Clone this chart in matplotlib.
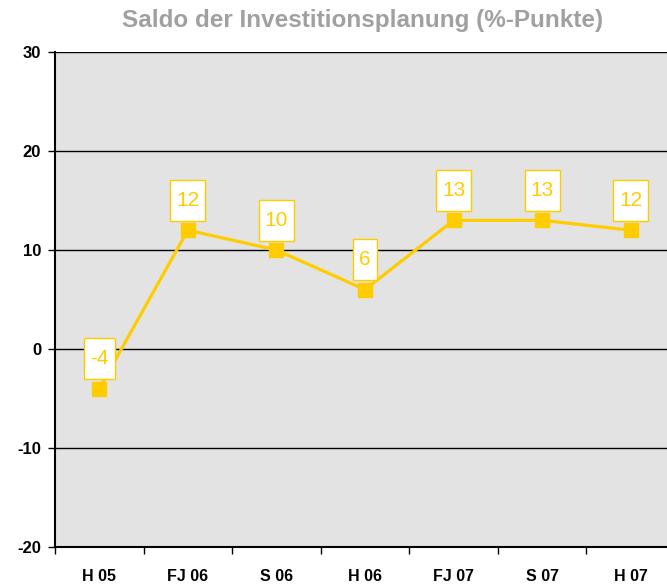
import matplotlib
matplotlib.use("Agg")
import matplotlib.pyplot as plt
from matplotlib.patches import Rectangle
import numpy as np

categories = ["H 05", "FJ 06", "S 06", "H 06", "FJ 07", "S 07", "H 07"]
values = [-4, 12, 10, 6, 13, 13, 12]
yticks = [-20, -10, 0, 10, 20, 30]

FAM = ["Liberation Sans", "DejaVu Sans"]
W, H = 667, 587
fig = plt.figure(figsize=(W/100, H/100), dpi=100)
left, right, top, bottom = 55, 675, 52, 547
ax = fig.add_axes([left/W, 1-bottom/H, (right-left)/W, (bottom-top)/H])
ax.set_facecolor("#E3E3E3")

x = np.arange(len(categories))
ax.set_xlim(-0.5, len(categories)-0.5)
ax.set_ylim(-20, 30)

for yv in yticks[1:]:
    ax.axhline(yv, color="black", lw=1, zorder=1)

yellow = "#FFCC00"
ax.plot(x, values, color=yellow, lw=2.3, marker="s", ms=10, zorder=3, clip_on=False)

texts = []
for xi, v in zip(x, values):
    t = ax.annotate(str(v), (xi, v), xytext=(0, 30), textcoords="offset pixels",
                    ha="center", va="center", fontsize=15, color=yellow, zorder=5, family=FAM)
    texts.append(t)

ax.set_yticks(yticks)
ax.set_yticklabels([str(t) for t in yticks], fontsize=12, fontweight="bold", family=FAM)
ax.set_xticks(np.arange(len(categories)+1)-0.5, minor=False)
ax.set_xticklabels([""]*(len(categories)+1))
ax.set_xticks(x, minor=True)
ax.set_xticklabels(categories, minor=True, fontsize=11.5, fontweight="bold", family=FAM)
ax.tick_params(axis="x", which="minor", length=0, pad=16)
ax.tick_params(axis="x", which="major", length=5, width=1, direction="out")
ax.tick_params(axis="y", length=5, width=1, direction="out", pad=5)

for s in ["top", "right"]:
    ax.spines[s].set_visible(False)
ax.spines["left"].set_linewidth(1.5)
ax.spines["bottom"].set_linewidth(1.5)

fig.text(363/W, 1-20/H, "Saldo der Investitionsplanung (%-Punkte)", ha="center", va="center",
         fontsize=17.5, fontweight="bold", color="#A0A0A0", family=FAM)

# label boxes sized from the rendered text
fig.canvas.draw()
r = fig.canvas.get_renderer()
for t, xi, v in zip(texts, x, values):
    bb = t.get_window_extent(r)
    px, py = ax.transData.transform((xi, v))
    bw = bb.width + 12
    bh = 41
    cy = py + 30
    rect = Rectangle(((px - bw/2)/W, (cy - bh/2)/H), bw/W, bh/H, transform=fig.transFigure,
                     facecolor="white", edgecolor=yellow, lw=1, zorder=4)
    fig.patches.append(rect)
    t.set_zorder(5)
# ensure texts draw above figure patches: move them to figure level
for t in texts:
    t.remove()
for xi, v in zip(x, values):
    px, py = ax.transData.transform((xi, v))
    fig.text(px/W, (py+30)/H, str(v), ha="center", va="center", fontsize=15,
             color=yellow, family=FAM, zorder=5)

fig.savefig("out.png", dpi=100)
